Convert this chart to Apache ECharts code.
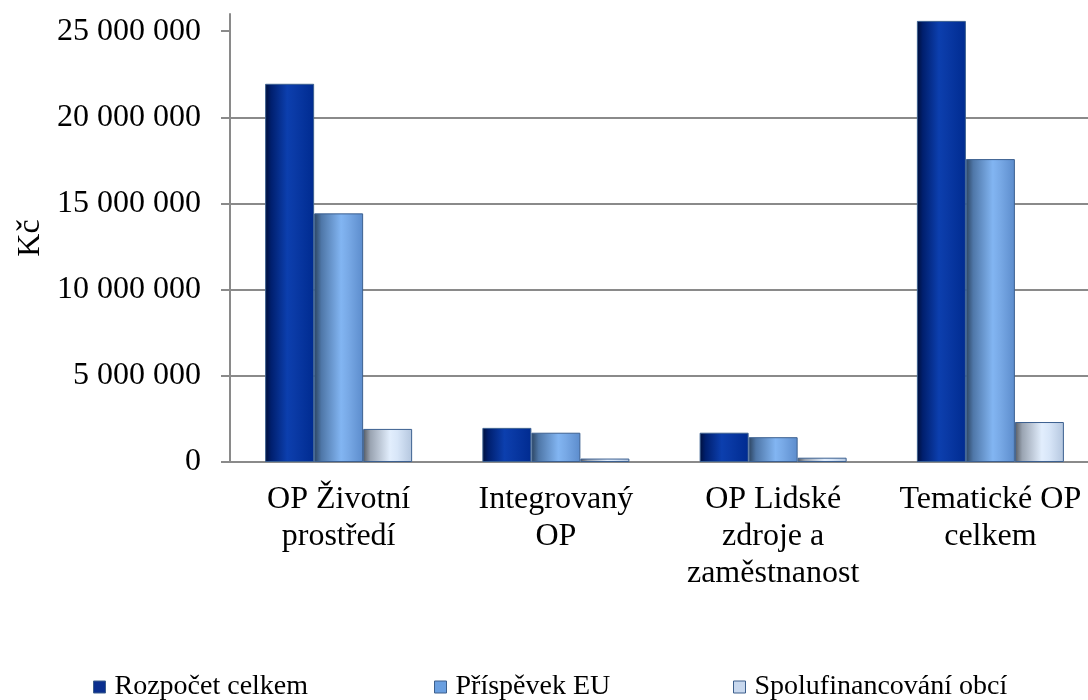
<!DOCTYPE html>
<html>
<head>
<meta charset="utf-8">
<script src="https://cdn.jsdelivr.net/npm/echarts@6/dist/echarts.min.js"></script>
<style>
  html, body { margin: 0; padding: 0; background: #fff; }
  #chart { width: 1088px; height: 700px; }
</style>
</head>
<body>
<div id="chart"></div>
<script>
const categories = [
  "OP Životní\nprostředí",
  "Integrovaný\nOP",
  "OP Lidské\nzdroje a\nzaměstnanost",
  "Tematické OP\ncelkem",
];
const seriesNames = ["Rozpočet celkem", "Příspěvek EU", "Spolufinancování obcí"];
const rozpocet = [21950000, 1980000, 1700000, 25600000];
const prispevek = [14430000, 1700000, 1440000, 17580000];
const spolufin = [1920000, 200000, 250000, 2320000];
const yTicks = [0, 5000000, 10000000, 15000000, 20000000, 25000000];

const FONT = "'Liberation Serif', 'DejaVu Serif', serif";

const grad = (stops) => new echarts.graphic.LinearGradient(0, 0, 1, 0,
  stops.map(([offset, color]) => ({ offset, color })));

const styles = [
  {
    fill: grad([[0, "#000f3a"], [0.12, "#001f6e"], [0.45, "#0c3fae"], [0.6, "#0a3aa6"], [1, "#002b90"]]),
    legend: "#0a2f8f",
  },
  {
    fill: grad([[0, "#2c4460"], [0.15, "#4f77a8"], [0.55, "#82b5f2"], [0.7, "#78a9e6"], [1, "#5c8ccc"]]),
    legend: "#6a9fe0",
  },
  {
    fill: grad([[0, "#555a62"], [0.15, "#9aa4b2"], [0.55, "#e2eefd"], [0.7, "#d8e6f8"], [1, "#b4c6de"]]),
    legend: "#c8d8ee",
  },
];

const fmt = (v) => String(v).replace(/\B(?=(\d{3})+(?!\d))/g, " ");

const chart = echarts.init(document.getElementById("chart"));

const values = [rozpocet, prispevek, spolufin];
const legendLeft = [88, 429, 728];

chart.setOption({
  animation: false,
  textStyle: { fontFamily: FONT },
  // plot area runs a little past the right edge of the picture
  grid: { left: 230, width: 869, top: 14, bottom: 238, containLabel: false, outerBoundsMode: "none" },
  legend: seriesNames.map((name, i) => ({
    data: [{ name, itemStyle: { color: styles[i].legend, borderColor: "#3c5f8c", borderWidth: 1 } }],
    left: legendLeft[i],
    top: 668,
    icon: "rect",
    itemWidth: 12,
    itemHeight: 12,
    itemGap: 0,
    textStyle: { fontFamily: FONT, fontSize: 28, color: "#000", padding: [0, 0, 0, 4] },
  })),
  xAxis: {
    type: "category",
    data: categories,
    axisLine: { lineStyle: { color: "#8a8a8a", width: 2 } },
    axisTick: { show: false },
    axisLabel: {
      interval: 0,
      margin: 19,
      color: "#000",
      fontFamily: FONT,
      fontSize: 32,
      lineHeight: 37,
      align: "center",
    },
  },
  yAxis: {
    type: "value",
    min: 0,
    max: 26000000,
    interval: 5000000,
    name: "Kč",
    nameLocation: "middle",
    nameGap: 182,
    nameTextStyle: { fontFamily: FONT, fontSize: 32, color: "#000" },
    axisLine: { show: true, lineStyle: { color: "#8a8a8a", width: 2 } },
    axisTick: { show: true, length: 9, customValues: yTicks, lineStyle: { color: "#8a8a8a", width: 2 } },
    axisLabel: {
      customValues: yTicks,
      margin: 29,
      color: "#000",
      fontFamily: FONT,
      fontSize: 32,
      formatter: fmt,
    },
    splitLine: { show: true, showMaxLine: false, lineStyle: { color: "#8a8a8a", width: 2 } },
  },
  series: seriesNames.map((name, i) => ({
    name,
    type: "bar",
    data: values[i],
    barWidth: 49,
    barGap: "0%",
    itemStyle: { color: styles[i].fill, borderColor: "#3c6090", borderWidth: 1 },
  })),
});
</script>
</body>
</html>
